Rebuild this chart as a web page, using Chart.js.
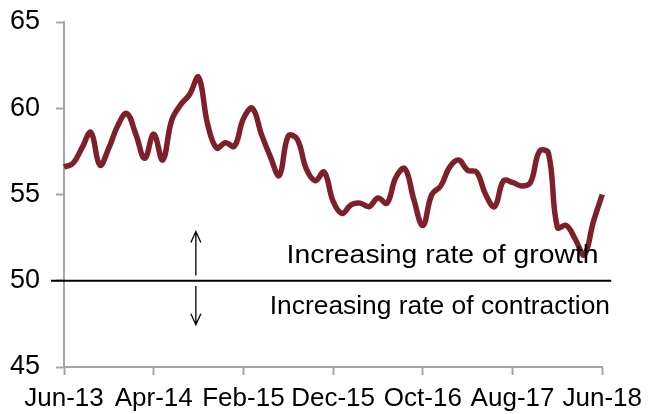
<!DOCTYPE html>
<html>
<head>
<meta charset="utf-8">
<script src="https://cdn.jsdelivr.net/npm/chart.js@4.4.1/dist/chart.umd.min.js"></script>
<style>
  html, body { margin: 0; padding: 0; background: #fff; }
  #wrap { width: 650px; height: 414px; }
</style>
</head>
<body>
<div id="wrap"><canvas id="c" width="650" height="414"></canvas></div>
<script>
// Monthly categories Jun-13 .. Jun-18
const monthNames = ['Jan','Feb','Mar','Apr','May','Jun','Jul','Aug','Sep','Oct','Nov','Dec'];
const categories = [];
for (let i = 0; i < 61; i++) {
  const m = (5 + i) % 12;
  const y = 13 + Math.floor((5 + i) / 12);
  categories.push(monthNames[m] + '-' + y);
}
const tickEvery = 10;

const indexValues = [
  56.6, 56.8, 57.7, 58.6, 56.7, 57.7, 59.0, 59.7, 58.5, 57.1,
  58.5, 57.0, 59.3, 60.2, 60.8, 61.8, 59.1, 57.7, 58.0, 57.8,
  59.4, 60.0, 58.5, 57.2, 56.1, 58.4, 58.2, 56.5, 55.8, 56.3,
  54.6, 53.9, 54.4, 54.5, 54.3, 54.8, 54.5, 56.0, 56.5, 54.7,
  53.2, 55.0, 55.5, 56.6, 57.0, 56.4, 56.3, 55.0, 54.3, 55.8,
  55.7, 55.5, 55.7, 57.5, 57.4, 53.1, 53.2, 52.4, 51.5, 53.4,
  55.0
];

const yTicks = [45, 50, 55, 60, 65];
const threshold = 50;
const growthText = 'Increasing rate of growth';
const contractionText = 'Increasing rate of contraction';

const FONT = '"Liberation Sans", Arial, sans-serif';
const AXIS_GRAY = '#A6A6A6';

const overlay = {
  id: 'overlay',
  beforeDatasetsDraw(chart) {
    const { ctx, chartArea, scales } = chart;
    const y = scales.y;
    const y50 = y.getPixelForValue(threshold);
    ctx.save();
    ctx.strokeStyle = '#000';
    ctx.lineWidth = 2;
    ctx.beginPath();
    ctx.moveTo(chartArea.left - 13, y50);
    ctx.lineTo(chartArea.right + 9, y50);
    ctx.stroke();
    ctx.restore();
  },
  afterDatasetsDraw(chart) {
    const { ctx, scales } = chart;
    const x = scales.x, y = scales.y;
    ctx.save();
    ctx.fillStyle = '#000';
    ctx.font = '26px ' + FONT;
    ctx.textAlign = 'center';
    ctx.textBaseline = 'alphabetic';
    const drawStretched = (txt, cx, by, sx) => {
      ctx.save();
      ctx.translate(cx, by);
      ctx.scale(sx, 1);
      ctx.fillText(txt, 0, 0);
      ctx.restore();
    };
    drawStretched(growthText, x.getPixelForValue(42.2), y.getPixelForValue(51.05), 1.09);
    drawStretched(contractionText, x.getPixelForValue(41.9), y.getPixelForValue(48.1), 1.015);
    const ax = x.getPixelForValue(14.7);
    const arrow = (yTip, yTail) => {
      const tp = y.getPixelForValue(yTip), tl = y.getPixelForValue(yTail);
      const dir = tl > tp ? 1 : -1;
      ctx.strokeStyle = '#000';
      ctx.lineWidth = 1.3;
      ctx.beginPath();
      ctx.moveTo(ax, tl); ctx.lineTo(ax, tp);
      ctx.moveTo(ax - 5, tp + dir * 11); ctx.lineTo(ax, tp); ctx.lineTo(ax + 5, tp + dir * 11);
      ctx.stroke();
    };
    arrow(52.85, 50.3);
    arrow(47.45, 49.7);
    ctx.restore();
  }
};

new Chart(document.getElementById('c'), {
  type: 'line',
  data: {
    labels: categories,
    datasets: [{
      data: indexValues,
      borderColor: '#7D2029',
      borderWidth: 5.5,
      pointRadius: 0,
      tension: 0.4,
      fill: false
    }]
  },
  options: {
    responsive: false,
    animation: false,
    devicePixelRatio: 1,
    layout: { padding: { top: 22, right: 47, left: 0, bottom: 0 } },
    plugins: { legend: { display: false }, tooltip: { enabled: false } },
    scales: {
      x: {
        type: 'category',
        offset: false,
        afterFit(s) { s.height = 47; s.paddingTop = 0; s.paddingBottom = 0; },
        border: { color: AXIS_GRAY, width: 2 },
        grid: {
          drawOnChartArea: false,
          tickLength: 8,
          tickWidth: 2,
          color: ctx => (ctx.index % tickEvery === 0 ? AXIS_GRAY : 'rgba(0,0,0,0)')
        },
        ticks: {
          autoSkip: false,
          maxRotation: 0,
          minRotation: 0,
          padding: 8,
          color: '#000',
          font: { family: FONT, size: 26 },
          callback: (v, i) => (i % tickEvery === 0 ? categories[i] : '')
        }
      },
      y: {
        min: yTicks[0],
        max: yTicks[yTicks.length - 1],
        afterFit(s) { s.width = 64; s.paddingTop = 0; s.paddingBottom = 0; },
        afterBuildTicks(s) { s.ticks = yTicks.map(v => ({ value: v })); },
        border: { color: AXIS_GRAY, width: 2 },
        grid: { drawOnChartArea: false, tickLength: 8, tickWidth: 2, color: AXIS_GRAY },
        ticks: {
          padding: 16,
          color: '#000',
          font: { family: FONT, size: 27 }
        }
      }
    }
  },
  plugins: [overlay]
});
</script>
</body>
</html>
